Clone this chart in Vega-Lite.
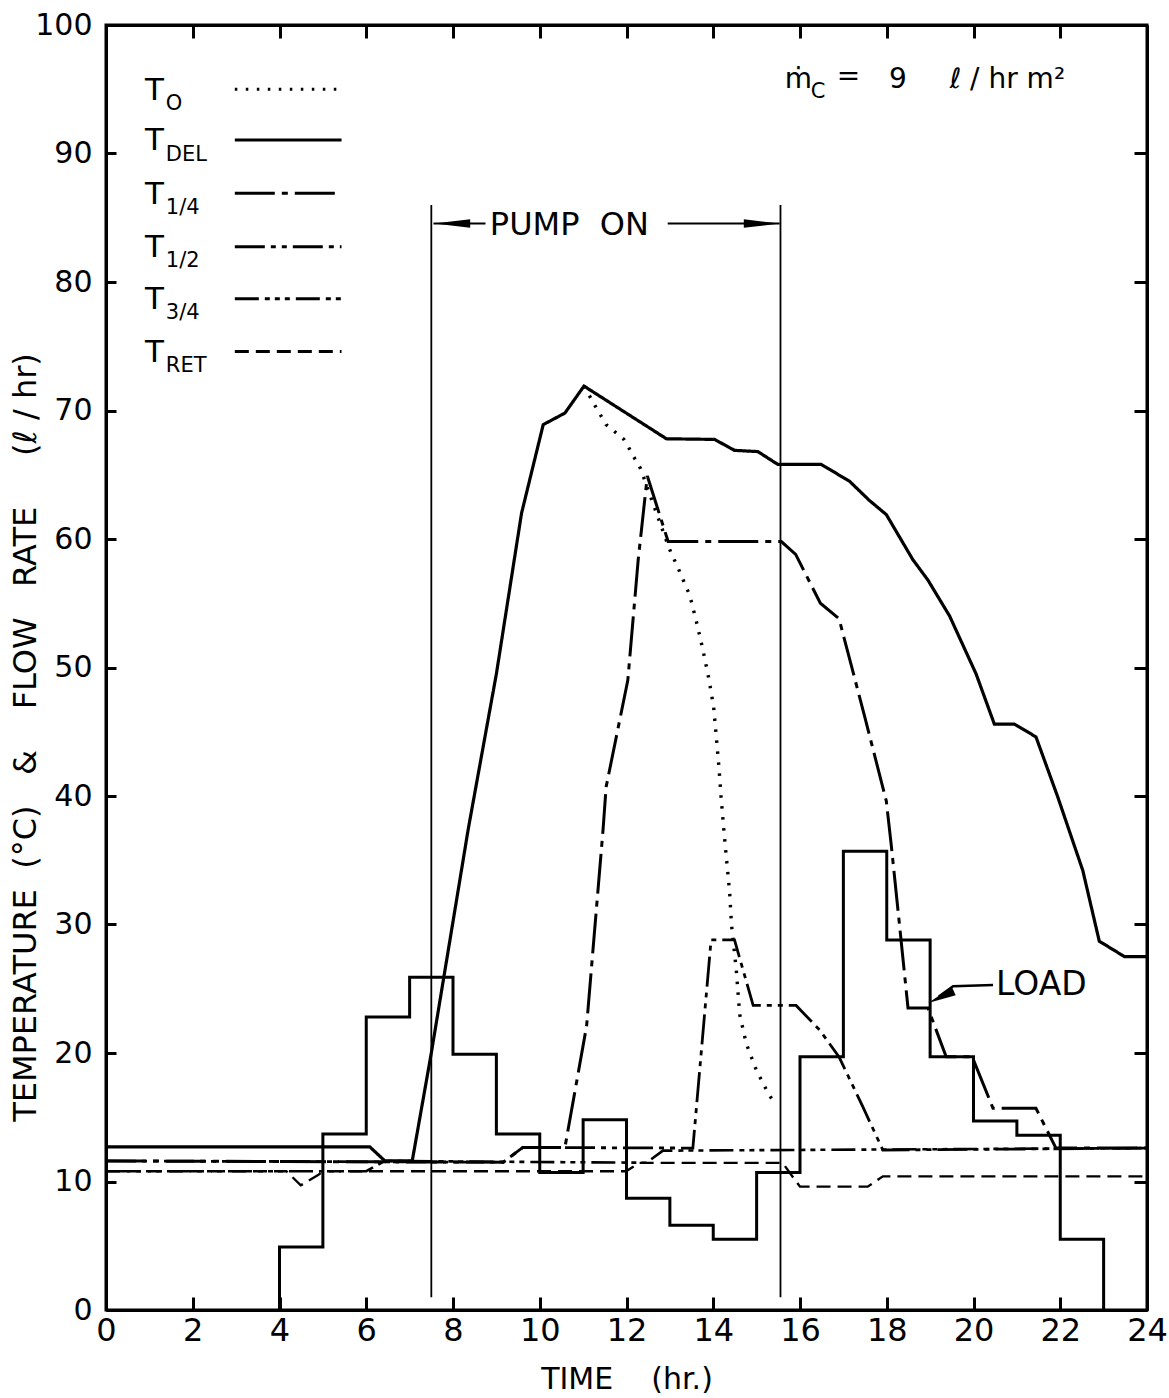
{
  "$schema": "https://vega.github.io/schema/vega-lite/v6.json",
  "width": 1041,
  "height": 1285,
  "autosize": {"type": "none"},
  "padding": {"left": 106, "top": 25, "right": 22, "bottom": 88},
  "background": "#ffffff",
  "config": {
    "view": {"stroke": "#000000", "strokeWidth": 3},
    "font": "DejaVu Sans",
    "axis": {"domainColor": "#000000", "domainWidth": 3, "tickColor": "#000000", "tickWidth": 3, "labelColor": "#000000", "titleColor": "#000000", "grid": false, "labelFlush": false, "labelOverlap": false}
  },
  "datasets": {
    "lines": [
      {"s": "T_DEL", "x": 0, "y": 12.7}, {"s": "T_DEL", "x": 6.08, "y": 12.7}, {"s": "T_DEL", "x": 6.43, "y": 11.6}, {"s": "T_DEL", "x": 7.06, "y": 11.6},
      {"s": "T_DEL", "x": 7.5, "y": 20.0}, {"s": "T_DEL", "x": 8.16, "y": 33.5}, {"s": "T_DEL", "x": 8.35, "y": 37.4}, {"s": "T_DEL", "x": 9.0, "y": 49.5},
      {"s": "T_DEL", "x": 9.58, "y": 62.0}, {"s": "T_DEL", "x": 10.08, "y": 68.9}, {"s": "T_DEL", "x": 10.58, "y": 69.8}, {"s": "T_DEL", "x": 11.02, "y": 71.9},
      {"s": "T_DEL", "x": 12.92, "y": 67.8}, {"s": "T_DEL", "x": 14.03, "y": 67.75}, {"s": "T_DEL", "x": 14.49, "y": 66.9}, {"s": "T_DEL", "x": 15.03, "y": 66.8},
      {"s": "T_DEL", "x": 15.49, "y": 65.8}, {"s": "T_DEL", "x": 16.49, "y": 65.8}, {"s": "T_DEL", "x": 17.14, "y": 64.5}, {"s": "T_DEL", "x": 17.6, "y": 63.0},
      {"s": "T_DEL", "x": 17.99, "y": 61.9}, {"s": "T_DEL", "x": 18.6, "y": 58.4}, {"s": "T_DEL", "x": 18.95, "y": 56.8}, {"s": "T_DEL", "x": 19.45, "y": 54.0},
      {"s": "T_DEL", "x": 20.06, "y": 49.5}, {"s": "T_DEL", "x": 20.48, "y": 45.6}, {"s": "T_DEL", "x": 20.94, "y": 45.6}, {"s": "T_DEL", "x": 21.44, "y": 44.6},
      {"s": "T_DEL", "x": 21.94, "y": 39.95}, {"s": "T_DEL", "x": 22.52, "y": 34.2}, {"s": "T_DEL", "x": 22.9, "y": 28.7}, {"s": "T_DEL", "x": 23.48, "y": 27.5},
      {"s": "T_DEL", "x": 24, "y": 27.5},
      {"s": "T_O", "x": 11.02, "y": 71.9}, {"s": "T_O", "x": 11.27, "y": 70.4}, {"s": "T_O", "x": 11.53, "y": 68.9}, {"s": "T_O", "x": 11.73, "y": 68.35},
      {"s": "T_O", "x": 11.94, "y": 67.75}, {"s": "T_O", "x": 12.07, "y": 67.0}, {"s": "T_O", "x": 12.2, "y": 66.2}, {"s": "T_O", "x": 12.32, "y": 65.5},
      {"s": "T_O", "x": 12.98, "y": 59.3}, {"s": "T_O", "x": 13.22, "y": 57.5}, {"s": "T_O", "x": 13.46, "y": 55.6}, {"s": "T_O", "x": 13.61, "y": 53.6},
      {"s": "T_O", "x": 13.76, "y": 51.4}, {"s": "T_O", "x": 13.9, "y": 49.1}, {"s": "T_O", "x": 14.01, "y": 46.9}, {"s": "T_O", "x": 14.07, "y": 44.6},
      {"s": "T_O", "x": 14.13, "y": 42.3}, {"s": "T_O", "x": 14.18, "y": 39.95}, {"s": "T_O", "x": 14.24, "y": 37.5}, {"s": "T_O", "x": 14.38, "y": 32.4},
      {"s": "T_O", "x": 14.42, "y": 30.0}, {"s": "T_O", "x": 14.53, "y": 26.5}, {"s": "T_O", "x": 14.61, "y": 23.0}, {"s": "T_O", "x": 14.76, "y": 20.75},
      {"s": "T_O", "x": 14.99, "y": 18.7}, {"s": "T_O", "x": 15.26, "y": 16.9}, {"s": "T_O", "x": 15.45, "y": 15.9},
      {"s": "T_1/4", "x": 0, "y": 11.6}, {"s": "T_1/4", "x": 9.16, "y": 11.5}, {"s": "T_1/4", "x": 9.61, "y": 12.65}, {"s": "T_1/4", "x": 10.58, "y": 12.65},
      {"s": "T_1/4", "x": 11.08, "y": 22.1}, {"s": "T_1/4", "x": 11.46, "y": 37.4}, {"s": "T_1/4", "x": 11.53, "y": 40.7}, {"s": "T_1/4", "x": 12.03, "y": 49.0},
      {"s": "T_1/4", "x": 12.27, "y": 58.4}, {"s": "T_1/4", "x": 12.48, "y": 64.9}, {"s": "T_1/4", "x": 12.96, "y": 59.8}, {"s": "T_1/4", "x": 15.57, "y": 59.8},
      {"s": "T_1/4", "x": 15.9, "y": 58.8}, {"s": "T_1/4", "x": 16.47, "y": 55.0}, {"s": "T_1/4", "x": 16.9, "y": 53.8}, {"s": "T_1/4", "x": 17.49, "y": 46.2},
      {"s": "T_1/4", "x": 17.99, "y": 39.6}, {"s": "T_1/4", "x": 18.1, "y": 36.3}, {"s": "T_1/4", "x": 18.29, "y": 30.1}, {"s": "T_1/4", "x": 18.49, "y": 23.5},
      {"s": "T_1/4", "x": 18.95, "y": 23.5}, {"s": "T_1/4", "x": 19.37, "y": 19.7}, {"s": "T_1/4", "x": 19.97, "y": 19.7}, {"s": "T_1/4", "x": 20.45, "y": 15.7},
      {"s": "T_1/4", "x": 21.44, "y": 15.7}, {"s": "T_1/4", "x": 21.9, "y": 12.6}, {"s": "T_1/4", "x": 24, "y": 12.6},
      {"s": "T_1/2", "x": 0, "y": 11.6}, {"s": "T_1/2", "x": 9.16, "y": 11.5}, {"s": "T_1/2", "x": 9.61, "y": 12.65}, {"s": "T_1/2", "x": 13.53, "y": 12.6},
      {"s": "T_1/2", "x": 13.95, "y": 28.8}, {"s": "T_1/2", "x": 14.49, "y": 28.8}, {"s": "T_1/2", "x": 14.92, "y": 23.7}, {"s": "T_1/2", "x": 15.91, "y": 23.7},
      {"s": "T_1/2", "x": 16.45, "y": 21.8}, {"s": "T_1/2", "x": 16.9, "y": 19.7}, {"s": "T_1/2", "x": 17.45, "y": 15.8}, {"s": "T_1/2", "x": 17.91, "y": 12.45},
      {"s": "T_1/2", "x": 24, "y": 12.6},
      {"s": "T_3/4", "x": 0, "y": 10.8}, {"s": "T_3/4", "x": 6.0, "y": 10.8}, {"s": "T_3/4", "x": 6.43, "y": 11.6}, {"s": "T_3/4", "x": 12.46, "y": 11.46},
      {"s": "T_3/4", "x": 12.84, "y": 12.4}, {"s": "T_3/4", "x": 24, "y": 12.6},
      {"s": "T_RET", "x": 0, "y": 10.8}, {"s": "T_RET", "x": 4.16, "y": 10.8}, {"s": "T_RET", "x": 4.49, "y": 9.7}, {"s": "T_RET", "x": 4.89, "y": 10.5},
      {"s": "T_RET", "x": 5.0, "y": 10.8}, {"s": "T_RET", "x": 11.99, "y": 10.8}, {"s": "T_RET", "x": 12.3, "y": 11.45}, {"s": "T_RET", "x": 15.6, "y": 11.45},
      {"s": "T_RET", "x": 15.91, "y": 10.0}, {"s": "T_RET", "x": 16.0, "y": 9.6}, {"s": "T_RET", "x": 17.56, "y": 9.6}, {"s": "T_RET", "x": 17.91, "y": 10.4},
      {"s": "T_RET", "x": 24, "y": 10.4}
    ],
    "load": [
      {"x": 4, "y": 0}, {"x": 4, "y": 4.9}, {"x": 5, "y": 13.7}, {"x": 6, "y": 22.8}, {"x": 7, "y": 25.9}, {"x": 8, "y": 19.9},
      {"x": 9, "y": 13.7}, {"x": 10, "y": 10.7}, {"x": 11, "y": 14.8}, {"x": 12, "y": 8.7}, {"x": 13, "y": 6.6}, {"x": 14, "y": 5.5},
      {"x": 15, "y": 10.7}, {"x": 16, "y": 19.7}, {"x": 17, "y": 35.7}, {"x": 18, "y": 28.8}, {"x": 19, "y": 19.7}, {"x": 20, "y": 14.7},
      {"x": 21, "y": 13.6}, {"x": 22, "y": 5.5}, {"x": 23, "y": 0}
    ],
    "legend": [
      {"s": "T_O", "ly": 95.0, "tb": 94.2, "sb": 93.4, "sub": "O"},
      {"s": "T_DEL", "ly": 91.05, "tb": 90.25, "sb": 89.45, "sub": "DEL"},
      {"s": "T_1/4", "ly": 86.9, "tb": 86.1, "sb": 85.3, "sub": "1/4"},
      {"s": "T_1/2", "ly": 82.75, "tb": 81.95, "sb": 81.15, "sub": "1/2"},
      {"s": "T_3/4", "ly": 78.7, "tb": 77.9, "sb": 77.1, "sub": "3/4"},
      {"s": "T_RET", "ly": 74.6, "tb": 73.8, "sb": 73.0, "sub": "RET"}
    ],
    "pump": [{"x": 7.5, "y1": 1, "y2": 86}, {"x": 15.55, "y1": 1, "y2": 86}],
    "arrows": [{"x1": 7.55, "x2": 8.75, "y": 84.55}, {"x1": 12.95, "x2": 15.53, "y": 84.55}],
    "loadArrow": [{"x": 20.45, "y": 25.3}, {"x": 19.53, "y": 25.2}, {"x": 19.2, "y": 24.4}],
    "mc": [
      {"t": "ṁ", "x": 15.65, "y": 95.1}, {"t": "=", "x": 16.85, "y": 95.3}, {"t": "9", "x": 18.05, "y": 95.1}, {"t": "ℓ / hr m²", "x": 19.45, "y": 95.1}
    ],
    "subs": [{"t": "C", "x": 16.25, "y": 94.3}]
  },
  "layer": [
    {
      "data": {"name": "lines"},
      "mark": {"type": "line", "color": "#000000", "strokeCap": "butt"},
      "encoding": {
        "x": {"field": "x", "type": "quantitative", "scale": {"domain": [0, 24], "nice": false, "zero": false},
          "axis": {"orient": "bottom", "values": [0, 2, 4, 6, 8, 10, 12, 14, 16, 18, 20, 22, 24], "tickSize": -13, "labelPadding": 18,
            "labelFont": "DejaVu Sans", "labelFontSize": 32,
            "title": "TIME\u00a0\u00a0\u00a0\u00a0(hr.)", "titleFont": "DejaVu Sans", "titleFontSize": 30, "titleFontWeight": "normal", "titlePadding": 18}},
        "y": {"field": "y", "type": "quantitative", "scale": {"domain": [0, 100], "nice": false, "zero": false},
          "axis": {"orient": "left", "values": [0, 10, 20, 30, 40, 50, 60, 70, 80, 90, 100], "tickSize": -10, "labelPadding": 24,
            "labelFont": "DejaVu Sans", "labelFontSize": 30,
            "title": "TEMPERATURE\u00a0\u00a0(°C)\u00a0\u00a0\u00a0&\u00a0\u00a0\u00a0\u00a0FLOW\u00a0\u00a0\u00a0RATE\u00a0\u00a0\u00a0\u00a0\u00a0(ℓ\u00a0/\u00a0hr)", "titleFont": "DejaVu Sans", "titleFontSize": 32, "titleFontWeight": "normal",
            "titleX": -71, "titleY": 712, "titleBaseline": "alphabetic", "titleAngle": 270, "titleAlign": "center"}},
        "strokeDash": {"field": "s", "type": "nominal", "legend": null,
          "scale": {"domain": ["T_O", "T_DEL", "T_1/4", "T_1/2", "T_3/4", "T_RET"], "range": [[2.5, 8.5], [1, 0], [40, 7, 6, 7], [30, 6, 5, 6, 5, 6], [24, 6, 5, 5, 5, 5, 5, 6], [14, 7]]}},
        "strokeWidth": {"field": "s", "type": "nominal", "legend": null,
          "scale": {"domain": ["T_O", "T_DEL", "T_1/4", "T_1/2", "T_3/4", "T_RET"], "range": [3.4, 2.4, 2.8, 2.8, 2.8, 3]}},
        "order": {"value": null}
      }
    },
    {
      "data": {"name": "load"},
      "mark": {"type": "line", "color": "#000000", "strokeWidth": 3, "interpolate": "step-after"},
      "encoding": {
        "x": {"field": "x", "type": "quantitative", "axis": null},
        "y": {"field": "y", "type": "quantitative", "axis": null},
        "order": {"value": null}
      }
    },
    {
      "data": {"name": "pump"},
      "mark": {"type": "rule", "color": "#000000", "strokeWidth": 1.8},
      "encoding": {
        "x": {"field": "x", "type": "quantitative",
          "axis": {"orient": "top", "values": [0, 2, 4, 6, 8, 10, 12, 14, 16, 18, 20, 22, 24], "tickSize": -13, "labels": false, "title": null}},
        "y": {"field": "y1", "type": "quantitative",
          "axis": {"orient": "right", "values": [0, 10, 20, 30, 40, 50, 60, 70, 80, 90, 100], "tickSize": -13, "labels": false, "title": null}},
        "y2": {"field": "y2"}
      }
    },
    {
      "data": {"name": "arrows"},
      "mark": {"type": "rule", "color": "#000000", "strokeWidth": 2},
      "encoding": {
        "x": {"field": "x1", "type": "quantitative", "axis": null},
        "x2": {"field": "x2"},
        "y": {"field": "y", "type": "quantitative", "axis": null}
      }
    },
    {
      "data": {"values": [{"x": 7.98, "y": 84.55}]},
      "mark": {"type": "point", "shape": "M-1,0L1,-0.24L1,0.24Z", "size": 1300, "filled": true, "color": "#000000", "opacity": 1},
      "encoding": {"x": {"field": "x", "type": "quantitative", "axis": null}, "y": {"field": "y", "type": "quantitative", "axis": null}}
    },
    {
      "data": {"values": [{"x": 15.12, "y": 84.55}]},
      "mark": {"type": "point", "shape": "M1,0L-1,-0.24L-1,0.24Z", "size": 1300, "filled": true, "color": "#000000", "opacity": 1},
      "encoding": {"x": {"field": "x", "type": "quantitative", "axis": null}, "y": {"field": "y", "type": "quantitative", "axis": null}}
    },
    {
      "data": {"name": "loadArrow"},
      "mark": {"type": "line", "color": "#000000", "strokeWidth": 2.5},
      "encoding": {"x": {"field": "x", "type": "quantitative", "axis": null}, "y": {"field": "y", "type": "quantitative", "axis": null}, "order": {"value": null}}
    },
    {
      "data": {"values": [{"x": 19.25, "y": 24.35}]},
      "mark": {"type": "point", "shape": "M-1,0L1,-0.32L1,0.32Z", "size": 800, "angle": 335, "filled": true, "color": "#000000", "opacity": 1},
      "encoding": {"x": {"field": "x", "type": "quantitative", "axis": null}, "y": {"field": "y", "type": "quantitative", "axis": null}}
    },
    {
      "data": {"name": "legend"},
      "mark": {"type": "rule", "color": "#000000", "strokeWidth": 3},
      "encoding": {
        "x": {"datum": 2.97, "type": "quantitative", "axis": null},
        "x2": {"datum": 5.43},
        "y": {"field": "ly", "type": "quantitative", "axis": null},
        "strokeDash": {"field": "s", "type": "nominal", "legend": null}
      }
    },
    {
      "data": {"name": "legend"},
      "mark": {"type": "text", "text": "T", "fontSize": 31, "align": "left", "baseline": "alphabetic", "color": "#000000", "font": "DejaVu Sans"},
      "encoding": {"x": {"datum": 0.9, "type": "quantitative", "axis": null}, "y": {"field": "tb", "type": "quantitative", "axis": null}}
    },
    {
      "data": {"name": "legend"},
      "mark": {"type": "text", "fontSize": 21, "align": "left", "baseline": "alphabetic", "color": "#000000", "font": "DejaVu Sans"},
      "encoding": {"x": {"datum": 1.38, "type": "quantitative", "axis": null}, "y": {"field": "sb", "type": "quantitative", "axis": null}, "text": {"field": "sub"}}
    },
    {
      "data": {"values": [{"t": "PUMP\u00a0\u00a0ON", "x": 8.85, "y": 84.4}]},
      "mark": {"type": "text", "fontSize": 32, "align": "left", "baseline": "middle", "color": "#000000", "font": "DejaVu Sans"},
      "encoding": {"x": {"field": "x", "type": "quantitative", "axis": null}, "y": {"field": "y", "type": "quantitative", "axis": null}, "text": {"field": "t"}}
    },
    {
      "data": {"values": [{"t": "LOAD", "x": 20.52, "y": 25.3}]},
      "mark": {"type": "text", "fontSize": 33, "align": "left", "baseline": "middle", "color": "#000000", "font": "DejaVu Sans"},
      "encoding": {"x": {"field": "x", "type": "quantitative", "axis": null}, "y": {"field": "y", "type": "quantitative", "axis": null}, "text": {"field": "t"}}
    },
    {
      "data": {"name": "mc"},
      "mark": {"type": "text", "fontSize": 28, "align": "left", "baseline": "alphabetic", "color": "#000000", "font": "DejaVu Sans"},
      "encoding": {"x": {"field": "x", "type": "quantitative", "axis": null}, "y": {"field": "y", "type": "quantitative", "axis": null}, "text": {"field": "t"}}
    },
    {
      "data": {"name": "subs"},
      "mark": {"type": "text", "fontSize": 21, "align": "left", "baseline": "alphabetic", "color": "#000000", "font": "DejaVu Sans"},
      "encoding": {"x": {"field": "x", "type": "quantitative", "axis": null}, "y": {"field": "y", "type": "quantitative", "axis": null}, "text": {"field": "t"}}
    }
  ],
  "resolve": {"axis": {"x": "independent", "y": "independent"}}
}
